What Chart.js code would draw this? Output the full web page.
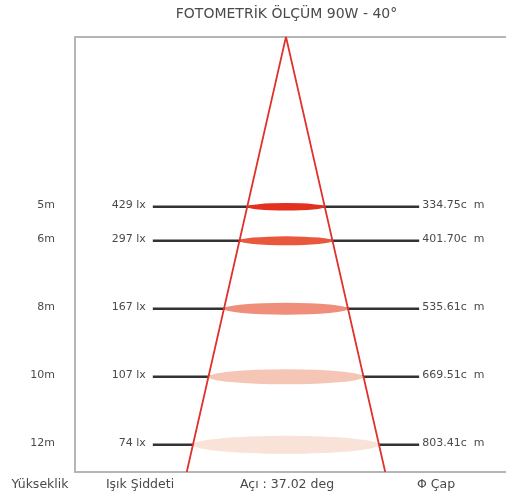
<!DOCTYPE html>
<html>
<head>
<meta charset="utf-8">
<script src="https://cdn.jsdelivr.net/npm/chart.js@4"></script>
<style>
  html, body { margin: 0; padding: 0; background: #fff; }
  #wrap { width: 506px; height: 496px; }
</style>
</head>
<body>
<div id="wrap"><canvas id="photometry"></canvas></div>
<script>
// Values read from the photometric sheet
const heights = [5, 6, 8, 10, 12];              // m
const luxValues = [429, 297, 167, 107, 74];     // lx
const diameters = [334.75, 401.70, 535.61, 669.51, 803.41]; // cm
const beamAngle = 37.02;                        // deg
const bottomLabels = ['Yükseklik', 'Işık Şiddeti', 'Açı : 37.02 deg', 'Φ Çap'];

// Styling
const spotColors = ['#e2311f', '#e9583d', '#ef8f7b', '#f5c5b5', '#f9e2d8'];
const guideHalf = 575;   // cm, half length of the black guide lines
const yMax = 12.8;
const FONT = "'DejaVu Sans', sans-serif";
const TEXT = '#4a4a4a';

const coneHalf = Math.tan(beamAngle / 2 * Math.PI / 180) * yMax * 100;

const guideSets = heights.map(h => ({
  data: [{ x: -guideHalf, y: h }, { x: guideHalf, y: h }],
  showLine: true,
  borderColor: '#333',
  borderWidth: 2.5,
  pointRadius: 0,
  order: 2
}));

const coneSet = {
  label: 'cone',
  data: [{ x: -coneHalf, y: yMax }, { x: 0, y: 0 }, { x: coneHalf, y: yMax }],
  showLine: true,
  borderColor: '#e0322a',
  borderWidth: 1.8,
  pointRadius: 0,
  order: 0
};

// ellipses between the guide lines and the cone
const spotPlugin = {
  id: 'spots',
  beforeDatasetDraw(chart, args) {
    if (args.meta.label !== 'cone') return;
    const { ctx, scales: { x, y } } = chart;
    ctx.save();
    heights.forEach((h, i) => {
      const cx = x.getPixelForValue(0);
      const cy = y.getPixelForValue(h);
      const rx = x.getPixelForValue(diameters[i] / 2) - cx;
      ctx.beginPath();
      ctx.ellipse(cx, cy, rx, h * 0.75, 0, 0, Math.PI * 2);
      ctx.fillStyle = spotColors[i];
      ctx.fill();
    });
    ctx.restore();
  }
};

const labelPlugin = {
  id: 'labels',
  afterDraw(chart) {
    const { ctx, scales: { x, y } } = chart;
    ctx.save();
    ctx.fillStyle = TEXT;
    ctx.font = '11px ' + FONT;
    ctx.textBaseline = 'middle';
    heights.forEach((h, i) => {
      const py = y.getPixelForValue(h) - 2;
      ctx.textAlign = 'right';
      ctx.fillText(h + 'm', 55, py);
      ctx.fillText(luxValues[i] + ' lx', x.getPixelForValue(-guideHalf) - 7, py);
      ctx.textAlign = 'left';
      ctx.fillText(diameters[i].toFixed(2) + 'c  m', x.getPixelForValue(guideHalf) + 3, py);
    });
    const by = chart.chartArea.bottom + 13;
    const bx = [40, 140, 287, 436];
    ctx.font = '12.5px ' + FONT;
    ctx.textAlign = 'center';
    bottomLabels.forEach((t, i) => ctx.fillText(t, bx[i], by));
    ctx.restore();
  }
};

const frameAxis = {
  ticks: { display: false },
  grid: { display: false },
  border: { color: '#b5b5b5', width: 2 }
};

new Chart(document.getElementById('photometry'), {
  type: 'scatter',
  data: { datasets: [...guideSets, coneSet] },
  options: {
    responsive: true,
    maintainAspectRatio: false,
    animation: false,
    layout: { padding: { left: 67, right: 0, top: 0, bottom: 16 } },
    scales: {
      x: { ...frameAxis, position: 'bottom', min: -911, max: 950 },
      x2: { ...frameAxis, position: 'top', min: -911, max: 950 },
      y: { ...frameAxis, position: 'left', min: 0, max: yMax, reverse: true }
    },
    plugins: {
      legend: { display: false },
      tooltip: { enabled: false },
      title: {
        display: true,
        text: 'FOTOMETRİK ÖLÇÜM 90W - 40°',
        color: TEXT,
        font: { family: FONT, size: 14, weight: 'normal' },
        padding: { top: 6, bottom: 6 }
      }
    }
  },
  plugins: [spotPlugin, labelPlugin]
});
</script>
</body>
</html>
